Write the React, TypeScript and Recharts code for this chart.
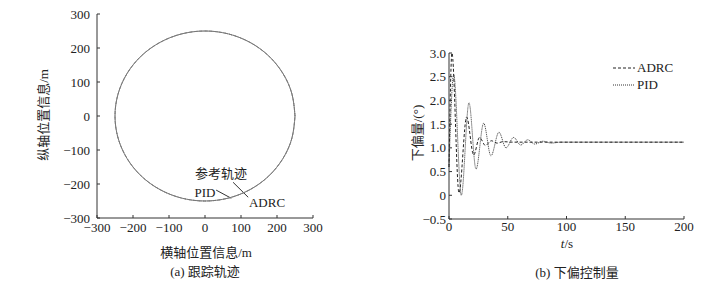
import React from 'react';
import {
  ScatterChart, Scatter, LineChart, Line, XAxis, YAxis, ReferenceLine,
} from 'recharts';

// (a) tracking trajectory, points read every 15 degrees around the circle
const circleX = [250, 241.5, 216.5, 176.8, 125, 64.7, 0, -64.7, -125, -176.8, -216.5, -241.5, -250,
  -241.5, -216.5, -176.8, -125, -64.7, 0, 64.7, 125, 176.8, 216.5, 241.5, 250];
const circleY = [0, 64.7, 125, 176.8, 216.5, 241.5, 250, 241.5, 216.5, 176.8, 125, 64.7, 0,
  -64.7, -125, -176.8, -216.5, -241.5, -250, -241.5, -216.5, -176.8, -125, -64.7, 0];
const posTicks = [-300, -200, -100, 0, 100, 200, 300];

// (b) control deflection
const adrcT = [0, 2.5, 8.5, 15, 21, 26, 31, 36, 41, 46, 55, 200];
const adrcV = [0.6, 3.0, 0.05, 1.65, 0.85, 1.22, 1.05, 1.15, 1.1, 1.13, 1.12, 1.12];
const pidT = [0, 4, 10.5, 17, 23, 29.5, 35.7, 42.5, 48.5, 55, 61, 67, 73, 80, 87, 95, 200];
const pidV = [0.6, 2.55, 0.0, 1.95, 0.55, 1.52, 0.83, 1.33, 1.0, 1.22, 1.06, 1.17, 1.08, 1.14, 1.1, 1.12, 1.12];
const tTicks = [0, 50, 100, 150, 200];
const degTicks = [-0.5, 0, 0.5, 1.0, 1.5, 2.0, 2.5, 3.0];

const circleData = circleX.map((x, i) => ({ x, y: circleY[i] }));
const adrcData = adrcT.map((t, i) => ({ t, v: adrcV[i] }));
const pidData = pidT.map((t, i) => ({ t, v: pidV[i] }));

const FONT = '"Liberation Serif", "Noto Sans CJK SC", serif';
const tickStyle = { fontSize: 13, fill: '#222', fontFamily: FONT };
const minus = (v: number) => (v < 0 ? '\u2212' + Math.abs(v) : String(v));
const fmtDeg = (v: number) => (v === 0 ? '0' : v < 0 ? '\u2212' + Math.abs(v).toFixed(1) : v.toFixed(1));

function Txt({ x, y, children, rotate, style }: any) {
  return (
    <div
      style={{
        position: 'absolute', left: x, top: y, whiteSpace: 'nowrap', fontSize: 13, color: '#222',
        transform: `translate(-50%, -50%)${rotate ? ` rotate(${rotate}deg)` : ''}`, lineHeight: 1,
        ...style,
      }}
    >
      {children}
    </div>
  );
}

const noShape = () => <g />;

export default function App() {
  return (
    <div style={{ position: 'absolute', left: 0, top: 0, width: 720, height: 288, background: '#fff', fontFamily: FONT }}>
      <div style={{ position: 'absolute', left: 0, top: 0 }}>
        <ScatterChart width={340} height={288} margin={{ top: 14, right: 27, bottom: 40, left: 50 }}>
          <XAxis type="number" dataKey="x" domain={[-300, 300]} ticks={posTicks} tickFormatter={minus}
            tick={tickStyle} tickSize={-3} tickMargin={8} stroke="#333" height={30} allowDataOverflow />
          <YAxis type="number" dataKey="y" domain={[-300, 300]} ticks={posTicks} tickFormatter={minus}
            tick={tickStyle} tickSize={-3} tickMargin={10} stroke="#333" width={47} allowDataOverflow />
          <Scatter name="参考轨迹" data={circleData} shape={noShape} line={{ stroke: '#7a7a7a', strokeWidth: 1 }}
            lineJointType="natural" isAnimationActive={false} />
          <Scatter name="PID" data={circleData} shape={noShape} line={{ stroke: '#777', strokeWidth: 0.8, strokeDasharray: '1 1' }}
            lineJointType="natural" isAnimationActive={false} />
          <Scatter name="ADRC" data={circleData} shape={noShape} line={{ stroke: '#777', strokeWidth: 0.8, strokeDasharray: '3 2' }}
            lineJointType="natural" isAnimationActive={false} />
          <ReferenceLine segment={[{ x: 78, y: -195 }, { x: 120, y: -239 }]} stroke="#333" strokeWidth={1} />
          <ReferenceLine segment={[{ x: 31, y: -218 }, { x: 73, y: -242 }]} stroke="#333" strokeWidth={1} />
        </ScatterChart>
      </div>
      <Txt x={43} y={115} rotate={-90}>纵轴位置信息/m</Txt>
      <Txt x={206} y={252}>横轴位置信息/m</Txt>
      <Txt x={205} y={271}>(a) 跟踪轨迹</Txt>
      <Txt x={221} y={173}>参考轨迹</Txt>
      <Txt x={205} y={192}>PID</Txt>
      <Txt x={267} y={202}>ADRC</Txt>

      <div style={{ position: 'absolute', left: 360, top: 0 }}>
        <LineChart width={360} height={288} margin={{ top: 53, right: 36, bottom: 39, left: 49 }}>
          <XAxis type="number" dataKey="t" domain={[0, 200]} ticks={tTicks} tick={tickStyle}
            tickSize={-3} tickMargin={6} stroke="#333" height={30} />
          <YAxis type="number" domain={[-0.5, 3.0]} ticks={degTicks} tickFormatter={fmtDeg} tick={tickStyle}
            tickSize={-3} tickMargin={6} stroke="#333" width={40} allowDataOverflow />
          <Line data={pidData} dataKey="v" type="monotone" stroke="#333" strokeWidth={1} strokeDasharray="1 1"
            dot={false} isAnimationActive={false} />
          <Line data={adrcData} dataKey="v" type="monotone" stroke="#222" strokeWidth={1} strokeDasharray="3 2"
            dot={false} isAnimationActive={false} />
        </LineChart>
      </div>
      <Txt x={417} y={133} rotate={-90}>下偏量/(°)</Txt>
      <Txt x={567} y={243}><i>t</i>/s</Txt>
      <Txt x={577} y={272}>(b) 下偏控制量</Txt>
      <svg style={{ position: 'absolute', left: 612, top: 60 }} width={24} height={30}>
        <line x1={1} y1={8} x2={23} y2={8} stroke="#222" strokeDasharray="3 2" />
        <line x1={1} y1={25} x2={23} y2={25} stroke="#333" strokeDasharray="1 1" />
      </svg>
      <div style={{ position: 'absolute', left: 637, top: 61, fontSize: 13, lineHeight: '14px', color: '#222' }}>ADRC</div>
      <div style={{ position: 'absolute', left: 637, top: 78, fontSize: 13, lineHeight: '14px', color: '#222' }}>PID</div>
    </div>
  );
}
